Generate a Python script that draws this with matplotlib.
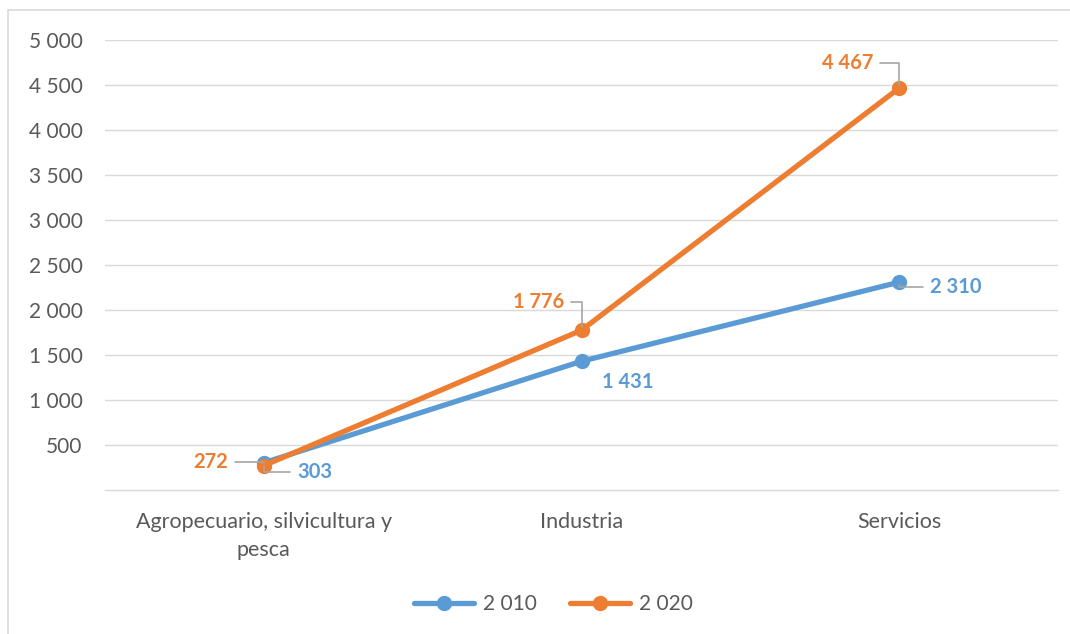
import matplotlib.pyplot as plt
from matplotlib.patches import Rectangle

categories = ['Agropecuario, silvicultura y\npesca', 'Industria', 'Servicios']
series_names = ['2 010', '2 020']
values_2010 = [303, 1431, 2310]
values_2020 = [272, 1776, 4467]
yticks = [500, 1000, 1500, 2000, 2500, 3000, 3500, 4000, 4500, 5000]

blue = '#5B9BD5'
orange = '#ED7D31'
grey_txt = '#595959'
grid_c = '#D9D9D9'

plt.rcParams['font.family'] = ['Lato', 'DejaVu Sans']


def fmt(v):
    return f"{v:,}".replace(",", " ")


fig = plt.figure(figsize=(10.7, 6.34), dpi=100)
ax = fig.add_axes([0.098, 0.227, 0.891, 0.710])

x = range(len(categories))
ax.plot(x, values_2010, color=blue, lw=3.8, marker='o', ms=10,
        solid_capstyle='round', label=series_names[0], zorder=3)
ax.plot(x, values_2020, color=orange, lw=3.8, marker='o', ms=10,
        solid_capstyle='round', label=series_names[1], zorder=4)

ax.set_xlim(-0.5, 2.5)
ax.set_ylim(0, 5000)
ax.set_yticks(yticks)
ax.set_yticklabels([fmt(t) for t in yticks])
ax.set_xticks(list(x))
ax.set_xticklabels(categories, linespacing=1.45)
ax.tick_params(axis='y', length=0, pad=16, labelsize=15, labelcolor=grey_txt)
ax.tick_params(axis='x', length=0, pad=16, labelsize=15.5, labelcolor=grey_txt)
ax.grid(axis='y', color=grid_c, lw=1)
ax.set_axisbelow(True)
for s in ['top', 'right', 'left']:
    ax.spines[s].set_visible(False)
ax.spines['bottom'].set_color(grid_c)
ax.spines['bottom'].set_linewidth(1)

# data labels: offsets in pixels from the point, leader line or not
offsets_2010 = [(51, -9), (46, -21), (56, -5)]
offsets_2020 = [(-53, 4), (-43, 28), (-52, 25)]
leader_2010 = [True, False, True]
leader_2020 = [True, True, True]

for vals, col, offs, leads in [(values_2010, blue, offsets_2010, leader_2010),
                               (values_2020, orange, offsets_2020, leader_2020)]:
    for i, (v, off, lead) in enumerate(zip(vals, offs, leads)):
        props = None
        if lead:
            props = dict(arrowstyle='-', color='#A6A6A6', lw=1.2,
                         connectionstyle='angle,angleA=0,angleB=90,rad=0',
                         shrinkA=3, shrinkB=2)
        ax.annotate(fmt(v), xy=(i, v), xytext=off, textcoords='offset pixels',
                    ha='center', va='center', color=col, fontsize=14.5,
                    fontweight='bold', arrowprops=props, zorder=5)

leg = fig.legend(loc='center', bbox_to_anchor=(0.517, 0.047), ncol=2,
                 frameon=False, fontsize=15, handlelength=2.9,
                 columnspacing=1.6, handletextpad=0.4)
for t in leg.get_texts():
    t.set_color(grey_txt)

# chart frame (partly cropped in the original)
fig.patches.append(Rectangle((8 / 1070, -0.5), 2, 1.5 - 10 / 634,
                             transform=fig.transFigure, fill=False,
                             edgecolor=grid_c, lw=1.2))

fig.savefig('out.png', dpi=100)
